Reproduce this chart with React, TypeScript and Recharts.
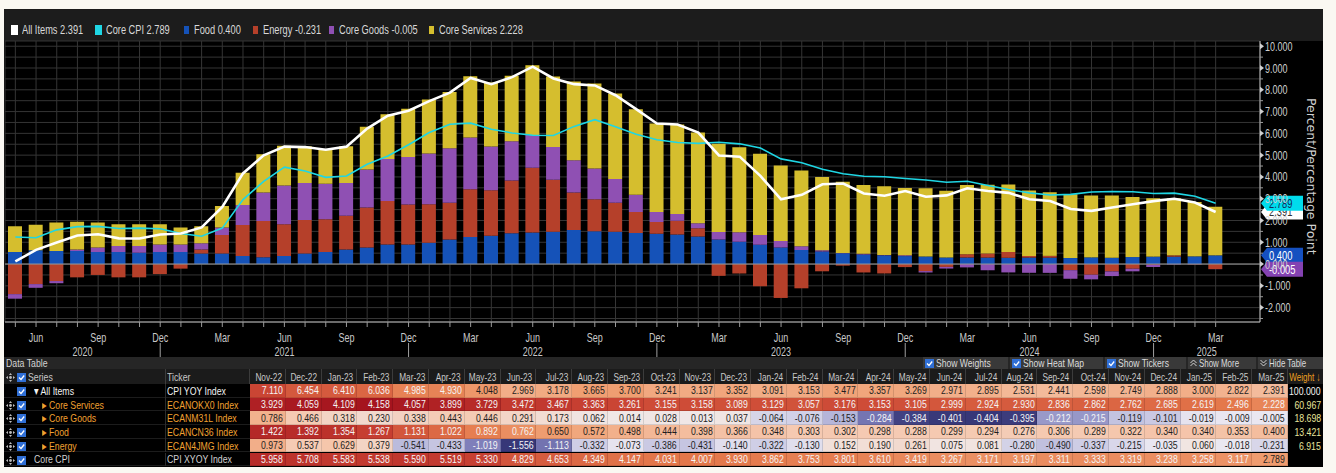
import React from 'react';
import {
  ComposedChart,
  Bar,
  Line,
  XAxis,
  YAxis,
  CartesianGrid,
  ReferenceLine
} from 'recharts';

// monthly categories, May 2020 .. Mar 2025
const MONTHS = [
  'May-20', 'Jun-20', 'Jul-20', 'Aug-20', 'Sep-20', 'Oct-20', 'Nov-20', 'Dec-20',
  'Jan-21', 'Feb-21', 'Mar-21', 'Apr-21', 'May-21', 'Jun-21', 'Jul-21', 'Aug-21', 'Sep-21', 'Oct-21', 'Nov-21', 'Dec-21',
  'Jan-22', 'Feb-22', 'Mar-22', 'Apr-22', 'May-22', 'Jun-22', 'Jul-22', 'Aug-22', 'Sep-22', 'Oct-22', 'Nov-22', 'Dec-22',
  'Jan-23', 'Feb-23', 'Mar-23', 'Apr-23', 'May-23', 'Jun-23', 'Jul-23', 'Aug-23', 'Sep-23', 'Oct-23', 'Nov-23', 'Dec-23',
  'Jan-24', 'Feb-24', 'Mar-24', 'Apr-24', 'May-24', 'Jun-24', 'Jul-24', 'Aug-24', 'Sep-24', 'Oct-24', 'Nov-24', 'Dec-24',
  'Jan-25', 'Feb-25', 'Mar-25'
];

// contributions (percentage points)
const FOOD = [
  0.55, 0.63, 0.60, 0.60, 0.55, 0.55, 0.52, 0.55, 0.55, 0.49, 0.49, 0.37, 0.31, 0.37, 0.49, 0.55, 0.67, 0.76, 0.90, 0.90,
  0.98, 1.13, 1.24, 1.30, 1.41, 1.45, 1.48, 1.56, 1.51, 1.48,
  1.422, 1.392, 1.354, 1.267, 1.131, 1.022, 0.892, 0.762, 0.650, 0.572, 0.498, 0.444, 0.398, 0.366, 0.348, 0.303,
  0.302, 0.298, 0.288, 0.299, 0.294, 0.276, 0.306, 0.289, 0.322, 0.340, 0.340, 0.353, 0.400
];
const ENERGY = [
  -1.38, -0.92, -0.78, -0.61, -0.50, -0.61, -0.61, -0.46, -0.21, 0.18, 0.84, 1.42, 1.67, 1.46, 1.53, 1.51, 1.55, 1.84, 1.99, 1.83,
  1.77, 1.68, 2.19, 2.09, 2.43, 2.97, 2.39, 1.73, 1.47, 1.33,
  0.973, 0.537, 0.629, 0.379, -0.541, -0.433, -1.019, -1.556, -1.113, -0.332, -0.073, -0.386, -0.431, -0.140, -0.322, -0.130,
  0.152, 0.190, 0.261, 0.075, 0.081, -0.280, -0.490, -0.337, -0.215, -0.035, 0.060, -0.018, -0.231
];
const CORE_GOODS = [
  -0.21, -0.17, -0.10, 0.07, 0.21, 0.28, 0.31, 0.35, 0.35, 0.28, 0.35, 0.92, 1.30, 1.78, 1.70, 1.63, 1.50, 1.74, 1.93, 2.18,
  2.33, 2.51, 2.38, 2.01, 1.80, 1.51, 1.50, 1.48, 1.41, 1.10,
  0.786, 0.466, 0.318, 0.230, 0.338, 0.443, 0.446, 0.291, 0.173, 0.062, 0.014, 0.028, 0.013, 0.037, -0.064, -0.076,
  -0.153, -0.284, -0.384, -0.401, -0.404, -0.395, -0.212, -0.215, -0.119, -0.101, -0.019, -0.009, -0.005
];
const CORE_SERVICES = [
  1.18, 1.17, 1.31, 1.27, 1.15, 1.00, 1.00, 0.93, 0.78, 0.78, 0.98, 1.48, 1.76, 1.82, 1.69, 1.59, 1.69, 1.96, 2.06, 2.22,
  2.47, 2.58, 2.81, 2.93, 3.00, 3.20, 3.24, 3.61, 3.90, 3.92,
  3.929, 4.059, 4.109, 4.158, 4.057, 3.899, 3.729, 3.472, 3.467, 3.363, 3.261, 3.155, 3.158, 3.089, 3.129, 3.057,
  3.176, 3.153, 3.105, 2.999, 2.924, 2.930, 2.836, 2.862, 2.762, 2.685, 2.619, 2.496, 2.228
];
// year-over-year lines
const ALL_ITEMS = [
  0.12, 0.65, 0.99, 1.31, 1.37, 1.18, 1.17, 1.36, 1.40, 1.68, 2.62, 4.16, 4.99, 5.39, 5.37, 5.25, 5.39, 6.22, 6.81, 7.04,
  7.48, 7.87, 8.54, 8.26, 8.58, 9.06, 8.52, 8.26, 8.20, 7.75,
  7.110, 6.454, 6.410, 6.036, 4.985, 4.930, 4.048, 2.969, 3.178, 3.665, 3.700, 3.241, 3.137, 3.352, 3.091, 3.153,
  3.477, 3.357, 3.269, 2.971, 2.895, 2.531, 2.441, 2.598, 2.749, 2.888, 3.000, 2.822, 2.391
];
const CORE_CPI = [
  1.24, 1.21, 1.57, 1.72, 1.73, 1.63, 1.65, 1.62, 1.40, 1.28, 1.65, 2.96, 3.80, 4.45, 4.27, 3.98, 4.04, 4.58, 4.96, 5.48,
  6.04, 6.42, 6.47, 6.19, 6.02, 5.91, 5.90, 6.32, 6.63, 6.30,
  5.958, 5.708, 5.583, 5.538, 5.590, 5.519, 5.330, 4.829, 4.653, 4.349, 4.147, 4.031, 4.007, 3.930, 3.862, 3.753,
  3.801, 3.610, 3.419, 3.267, 3.171, 3.197, 3.311, 3.333, 3.319, 3.238, 3.258, 3.117, 2.789
];

const WEIGHTS = [100.0, 60.967, 18.698, 13.421, 6.915];
const TABLE_START = 30; // first month shown in the data table (Nov-22)

const Y_TICKS = [
  -2.5, -2, -1.5, -1, -0.5, 0, 0.5, 1, 1.5, 2, 2.5, 3, 3.5, 4, 4.5, 5, 5.5, 6, 6.5, 7, 7.5, 8, 8.5, 9, 9.5, 10
];
const QUARTER_MONTHS = ['Mar', 'Jun', 'Sep', 'Dec'];

const C_ALL = '#ffffff';
const C_CORE = '#1fd6e4';
const C_FOOD = '#1552b8';
const C_ENERGY = '#b5402a';
const C_GOODS = '#8f50b3';
const C_SERV = '#d5be2e';

const FONT = "'Liberation Sans', Arial, sans-serif";

// layout
const WIN_W = 1319;
const TOP_PAD = 7;
const CHART_H = 316 + TOP_PAD;
const Y_AXIS_W = 63;
const PLOT_LEFT = 1;
const PLOT_RIGHT = WIN_W - Y_AXIS_W;

const chartData = MONTHS.map((m, i) => ({
  month: m,
  food: FOOD[i],
  energy: ENERGY[i],
  goods: CORE_GOODS[i],
  services: CORE_SERVICES[i],
  all: ALL_ITEMS[i],
  core: CORE_CPI[i]
}));

const FIRST_YEAR = MONTHS[0].split('-')[1];
const LAST_DEC = MONTHS.filter(m => m.startsWith('Dec')).slice(-1)[0];
const LAST_YEAR = MONTHS[MONTHS.length - 1].split('-')[1];

// condensed svg text (the terminal font is narrow)
const SText = ({ x, y, anchor = 'start', size = 12.5, fill = '#c8c8c8', k = 0.72, children }: any) => (
  <text
    transform={`translate(${x},${y}) scale(${k},1)`}
    textAnchor={anchor}
    fontSize={size}
    fill={fill}
    fontFamily={FONT}
  >
    {children}
  </text>
);

// condensed html text
const Sq = ({ k = 0.76, origin = 'left', children }: any) => (
  <span
    style={{
      display: 'inline-block',
      transform: `scaleX(${k})`,
      transformOrigin: origin,
      whiteSpace: 'nowrap',
      flexShrink: 0
    }}
  >
    {children}
  </span>
);

const MonthTick = (props: any) => {
  const { x, y, payload } = props;
  const [mon, yy] = String(payload.value).split('-');
  const items: React.ReactNode[] = [
    <line key="t" x1={x} x2={x} y1={y} y2={y + 5} stroke="#9a9a9a" />
  ];
  if (QUARTER_MONTHS.includes(mon)) {
    items.push(<SText key="m" x={x} y={y + 19.5} anchor="middle">{mon}</SText>);
  }
  if (mon === 'Dec') {
    items.push(<line key="s" x1={x} x2={x} y1={y + 21} y2={y + 35} stroke="#a0a0a0" />);
    if (yy === FIRST_YEAR) {
      items.push(<SText key="y0" x={(PLOT_LEFT + x) / 2} y={y + 33.5} anchor="middle">{'20' + yy}</SText>);
    }
    if (payload.value === LAST_DEC) {
      items.push(<SText key="y1" x={(x + PLOT_RIGHT) / 2} y={y + 33.5} anchor="middle">{'20' + LAST_YEAR}</SText>);
    }
  }
  if (mon === 'Jun' && yy !== FIRST_YEAR && yy !== LAST_YEAR) {
    items.push(<SText key="y" x={x} y={y + 33.5} anchor="middle">{'20' + yy}</SText>);
  }
  return <g>{items}</g>;
};

const ValueTick = (props: any) => {
  const { y, payload } = props;
  const x = PLOT_RIGHT;
  const v = Number(payload.value);
  if (Math.abs(v - Math.round(v)) > 1e-6) {
    return <line x1={x} x2={x + 3} y1={y} y2={y} stroke="#9a9a9a" />;
  }
  return (
    <g>
      <path d={`M${x},${y - 3} L${x + 4},${y} L${x},${y + 3} Z`} fill="#d0d0d0" />
      <SText x={x + 5} y={y + 4.5} fill="#cfcfcf">{v.toFixed(3)}</SText>
    </g>
  );
};

const ValueTag = (props: any) => {
  const { viewBox, text, fill, color, shift = 0 } = props;
  if (!viewBox) return null;
  const x0 = viewBox.x + viewBox.width + 1;
  const cy = viewBox.y + shift;
  const h = 7.5;
  return (
    <g>
      <path
        d={`M${x0},${cy} L${x0 + 6},${cy - h} L${x0 + 42},${cy - h} L${x0 + 42},${cy + h} L${x0 + 6},${cy + h} Z`}
        fill={fill}
      />
      <SText x={x0 + 8} y={cy + 4.5} fill={color} size={13} k={0.72}>{text}</SText>
    </g>
  );
};

const LegendItem = ({ left, color, label, big }: { left: number; color: string; label: string; big?: boolean }) => (
  <div style={{ position: 'absolute', left, top: 0, height: 14, display: 'flex', alignItems: 'center' }}>
    <span
      style={{
        display: 'inline-block',
        width: big ? 7 : 5,
        height: big ? 10 : 8,
        background: color,
        marginRight: big ? 4 : 5,
        flexShrink: 0
      }}
    />
    <Sq k={0.74}>{label}</Sq>
  </div>
);

// heat map colours
const POS_STOPS = [[240, 232, 232], [245, 200, 175], [240, 160, 115], [228, 120, 75], [200, 65, 50], [165, 20, 30]];
const NEG_STOPS = [[236, 233, 242], [190, 190, 222], [125, 125, 185], [55, 55, 120]];

function mix(stops: number[][], t: number) {
  const tt = Math.max(0, Math.min(1, t));
  const pos = tt * (stops.length - 1);
  const i = Math.min(Math.floor(pos), stops.length - 2);
  const f = pos - i;
  return stops[i].map((c, k) => Math.round(c + (stops[i + 1][k] - c) * f));
}

function heat(v: number, values: number[]) {
  const max = Math.max(...values);
  const min = Math.min(...values);
  const rgb = v >= 0 ? mix(POS_STOPS, max > 0 ? v / max : 0) : mix(NEG_STOPS, min < 0 ? v / min : 0);
  const lum = 0.299 * rgb[0] + 0.587 * rgb[1] + 0.114 * rgb[2];
  return { bg: `rgb(${rgb.join(',')})`, fg: lum < 170 ? '#f4f4f4' : '#1e1e1e' };
}

const TABLE_ROWS = [
  { name: 'All Items', ticker: 'CPI YOY Index', values: ALL_ITEMS, kind: 'parent' },
  { name: 'Core Services', ticker: 'ECANOKX0 Index', values: CORE_SERVICES, kind: 'child' },
  { name: 'Core Goods', ticker: 'ECANM31L Index', values: CORE_GOODS, kind: 'child' },
  { name: 'Food', ticker: 'ECANCN36 Index', values: FOOD, kind: 'child' },
  { name: 'Energy', ticker: 'ECAN4JMG Index', values: ENERGY, kind: 'child' },
  { name: 'Core CPI', ticker: 'CPI XYOY Index', values: CORE_CPI, kind: 'plain' }
];

const Checkbox = () => (
  <svg width={9} height={9} style={{ display: 'block', flexShrink: 0 }}>
    <rect x={0} y={0} width={9} height={9} fill="#2f6fd6" />
    <path d="M2,4.5 L4,6.5 L7.2,2.5" stroke="#fff" strokeWidth={1.3} fill="none" />
  </svg>
);

const MoveIcon = () => (
  <svg width={9} height={9} style={{ display: 'block' }}>
    <path d="M4.5,0 L6,2 L3,2 Z M4.5,9 L6,7 L3,7 Z M0,4.5 L2,3 L2,6 Z M9,4.5 L7,3 L7,6 Z" fill="#bdbdbd" />
    <circle cx={4.5} cy={4.5} r={1.4} fill="#bdbdbd" />
  </svg>
);

const Chevrons = ({ up }: { up: boolean }) => (
  <svg width={7} height={8} style={{ display: 'block', marginRight: 2, flexShrink: 0 }}>
    <path
      d={up ? 'M0.5,4 L3.5,1 L6.5,4 M0.5,7 L3.5,4 L6.5,7' : 'M0.5,1 L3.5,4 L6.5,1 M0.5,4 L3.5,7 L6.5,4'}
      stroke="#d0d0d0"
      fill="none"
    />
  </svg>
);

const DataTable = () => {
  const cols = MONTHS.slice(TABLE_START);
  const COL_X0 = 246;
  const COL_W = (1284 - COL_X0) / cols.length;
  const HEAD_TOP = 12;
  const ROW_TOP = 27;
  const ROW_H = 13.7;
  const box = (left: number, top: number, width: number, height: number, extra: React.CSSProperties = {}) => ({
    position: 'absolute' as const,
    left,
    top,
    width,
    height,
    boxSizing: 'border-box' as const,
    overflow: 'hidden',
    display: 'flex',
    alignItems: 'center',
    ...extra
  });
  const buttons = ['Show Weights', 'Show Heat Map', 'Show Tickers'];
  return (
    <div style={{ position: 'absolute', left: 0, top: 348, width: WIN_W, height: 110, fontSize: 11.5, fontFamily: FONT }}>
      {/* title row */}
      <div style={box(0, 0, WIN_W, 12, { background: '#262626', color: '#d4d4d4', paddingLeft: 2 })}>
        <Sq>Data Table</Sq>
      </div>
      <div style={{ position: 'absolute', right: 0, top: 0, height: 12, display: 'flex', gap: 2, fontSize: 11 }}>
        {buttons.map(b => (
          <div key={b} style={{ background: '#393939', color: '#dcdcdc', padding: '0 2px', display: 'flex', alignItems: 'center', height: 12 }}>
            <Checkbox />
            <span style={{ width: 2 }} />
            <Sq k={0.78}>{b}</Sq>
          </div>
        ))}
        <div style={{ background: '#393939', color: '#dcdcdc', padding: '0 2px', display: 'flex', alignItems: 'center', height: 12 }}>
          <Chevrons up />
          <Sq k={0.72}>Show More</Sq>
        </div>
        <div style={{ background: '#393939', color: '#dcdcdc', padding: '0 2px', display: 'flex', alignItems: 'center', height: 12 }}>
          <Chevrons up={false} />
          <Sq k={0.72}>Hide Table</Sq>
        </div>
      </div>
      {/* header row */}
      <div style={box(0, HEAD_TOP, WIN_W, 15, { background: '#1b1b1b' })} />
      <div style={box(2, HEAD_TOP + 3, 10, 10)}><MoveIcon /></div>
      <div style={box(13, HEAD_TOP + 3, 10, 10)}><Checkbox /></div>
      <div style={box(24, HEAD_TOP, 138, 15, { color: '#c8c8c8', borderRight: '1px solid #3c3c3c' })}>
        <Sq>Series</Sq>
      </div>
      <div style={box(162, HEAD_TOP, 84, 15, { color: '#c8c8c8', paddingLeft: 1, borderRight: '1px solid #3c3c3c' })}>
        <Sq>Ticker</Sq>
      </div>
      {cols.map((c, j) => (
        <div
          key={c}
          style={box(COL_X0 + j * COL_W, HEAD_TOP, COL_W, 15, {
            color: '#c8c8c8',
            justifyContent: 'flex-end',
            paddingRight: 3,
            borderRight: '1px solid #3c3c3c'
          })}
        >
          <Sq origin="right" k={0.72}>{c}</Sq>
        </div>
      ))}
      <div style={box(1284, HEAD_TOP, WIN_W - 1284, 15, { color: '#f0a020', justifyContent: 'flex-end', paddingRight: 2 })}>
        <Sq origin="right" k={0.7}>{'Weight \u2193'}</Sq>
      </div>
      {/* data rows */}
      {TABLE_ROWS.map((row, r) => {
        const top = ROW_TOP + r * ROW_H;
        const nameColor = row.kind === 'child' ? '#f0a030' : row.kind === 'parent' ? '#f2f2f2' : '#d0d0d0';
        const prefix = row.kind === 'parent' ? '\u25be ' : row.kind === 'child' ? '\u25b8 ' : '';
        return (
          <React.Fragment key={row.name}>
            <div style={box(0, top, 246, ROW_H, { background: '#000', borderBottom: '1px solid #1c1c1c' })} />
            {r > 0 && <div style={box(2, top + 2.5, 10, 10)}><MoveIcon /></div>}
            <div style={box(13, top + 2.5, 10, 10)}><Checkbox /></div>
            <div
              style={box(24, top, 138, ROW_H, {
                color: nameColor,
                paddingLeft: row.kind === 'child' ? 14 : 6,
                borderRight: '1px solid #2c2c2c'
              })}
            >
              <Sq>
                {prefix}
                {row.name}
              </Sq>
            </div>
            <div style={box(162, top, 84, ROW_H, { color: nameColor, paddingLeft: 1 })}>
              <Sq>{row.ticker}</Sq>
            </div>
            {cols.map((c, j) => {
              const v = row.values[TABLE_START + j];
              const h = heat(v, row.values);
              return (
                <div
                  key={c}
                  style={box(COL_X0 + j * COL_W, top, COL_W, ROW_H, {
                    background: h.bg,
                    color: h.fg,
                    justifyContent: 'flex-end',
                    paddingRight: 2,
                    borderRight: '1px solid rgba(0,0,0,0.12)',
                    borderBottom: '1px solid rgba(0,0,0,0.12)'
                  })}
                >
                  <Sq origin="right">{v.toFixed(3)}</Sq>
                </div>
              );
            })}
            <div
              style={box(1284, top, WIN_W - 1284, ROW_H, {
                background: '#000',
                color: r === 0 ? '#f2f2f2' : '#e8e49c',
                justifyContent: 'flex-end',
                paddingRight: 2
              })}
            >
              <Sq origin="right">{WEIGHTS[r] !== undefined ? WEIGHTS[r].toFixed(3) : ''}</Sq>
            </div>
          </React.Fragment>
        );
      })}
    </div>
  );
};

const last = (arr: number[]) => arr[arr.length - 1];

const App: React.FC = () => {
  return (
    <div style={{ position: 'relative', width: 1336, height: 473, background: '#faf8f2', overflow: 'hidden' }}>
      <style>{'body{margin:0}'}</style>
      <div style={{ position: 'absolute', left: 4, top: 9, width: WIN_W, height: 458, background: '#000', fontFamily: FONT }}>
        {/* legend band */}
        <div
          style={{
            position: 'absolute',
            left: 0,
            top: 0,
            width: WIN_W,
            height: 32,
            background: '#1c1c1c',
            color: '#d8d8d8',
            fontSize: 12.5
          }}
        >
          <div style={{ position: 'absolute', left: 0, top: 14, height: 14 }}>
            <LegendItem left={7} color={C_ALL} label={`All Items ${last(ALL_ITEMS).toFixed(3)}`} big />
            <LegendItem left={91} color={C_CORE} label={`Core CPI ${last(CORE_CPI).toFixed(3)}`} big />
            <LegendItem left={180} color={C_FOOD} label={`Food ${last(FOOD).toFixed(3)}`} />
            <LegendItem left={249} color={C_ENERGY} label={`Energy ${last(ENERGY).toFixed(3)}`} />
            <LegendItem left={325} color={C_GOODS} label={`Core Goods ${last(CORE_GOODS).toFixed(3)}`} />
            <LegendItem left={425} color={C_SERV} label={`Core Services ${last(CORE_SERVICES).toFixed(3)}`} />
          </div>
        </div>

        <div style={{ position: 'absolute', left: 0, top: 32 - TOP_PAD }}>
          <ComposedChart
            width={WIN_W}
            height={CHART_H}
            data={chartData}
            stackOffset="sign"
            margin={{ top: TOP_PAD, right: 0, bottom: 0, left: PLOT_LEFT }}
          >
            <CartesianGrid stroke="#353535" vertical horizontal />
            <XAxis
              dataKey="month"
              interval={0}
              height={35}
              tickSize={0}
              tickMargin={0}
              tickLine={false}
              padding={{ left: 0, right: 34 }}
              axisLine={{ stroke: '#bdbdbd' }}
              tick={<MonthTick />}
            />
            <YAxis
              orientation="right"
              type="number"
              width={Y_AXIS_W}
              domain={[-2.66, 10.24]}
              ticks={Y_TICKS}
              interval={0}
              allowDataOverflow
              tickSize={0}
              tickMargin={0}
              tickLine={false}
              axisLine={{ stroke: '#bdbdbd' }}
              tick={<ValueTick />}
            />
            <ReferenceLine y={0} stroke="#9c9c9c" />
            <Bar dataKey="food" stackId="a" fill={C_FOOD} barSize={14} isAnimationActive={false} />
            <Bar dataKey="energy" stackId="a" fill={C_ENERGY} barSize={14} isAnimationActive={false} />
            <Bar dataKey="goods" stackId="a" fill={C_GOODS} barSize={14} isAnimationActive={false} />
            <Bar dataKey="services" stackId="a" fill={C_SERV} barSize={14} isAnimationActive={false} />
            <Line dataKey="core" type="linear" stroke={C_CORE} strokeWidth={1.6} dot={false} isAnimationActive={false} />
            <Line dataKey="all" type="linear" stroke={C_ALL} strokeWidth={2.6} dot={false} isAnimationActive={false} />
            <ReferenceLine
              y={last(ALL_ITEMS)}
              stroke="none"
              label={<ValueTag text={last(ALL_ITEMS).toFixed(3)} fill="#ffffff" color="#333" />}
            />
            <ReferenceLine
              y={last(CORE_CPI)}
              stroke="none"
              label={<ValueTag text={last(CORE_CPI).toFixed(3)} fill="#00dcec" color="#14285a" />}
            />
            <ReferenceLine
              y={last(FOOD)}
              stroke="none"
              label={<ValueTag text={last(FOOD).toFixed(3)} fill="#1550c0" color="#ffffff" />}
            />
            <ReferenceLine
              y={last(CORE_GOODS)}
              stroke="none"
              label={<ValueTag text={last(CORE_GOODS).toFixed(3)} fill="#8442b2" color="#ffffff" shift={5} />}
            />
          </ComposedChart>
        </div>

        {/* y axis title */}
        <div
          style={{
            position: 'absolute',
            left: 1300,
            top: 89,
            width: 14,
            height: 172,
            writingMode: 'vertical-rl',
            color: '#d0d0d0',
            fontSize: 12.5,
            fontFamily: "'DejaVu Sans', sans-serif",
            lineHeight: '14px',
            whiteSpace: 'nowrap'
          }}
        >
          Percent/Percentage Point
        </div>

        <DataTable />
      </div>
    </div>
  );
};

export default App;
